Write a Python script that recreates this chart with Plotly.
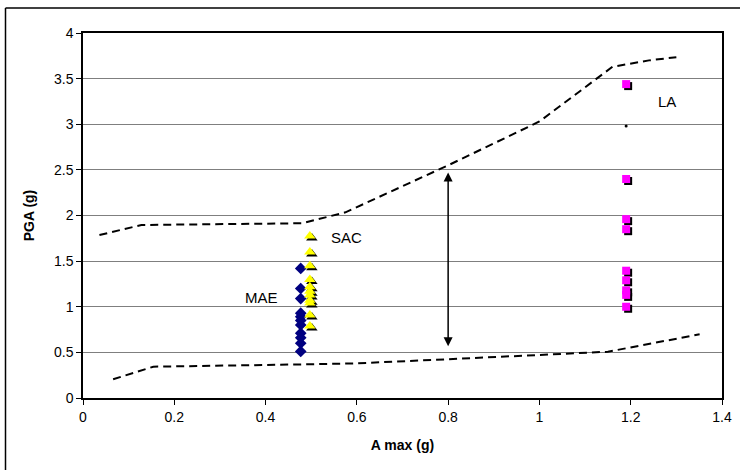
import plotly.graph_objects as go

# ---- data ----
mae_x = [0.477] * 11
mae_y = [1.42, 1.20, 1.09, 0.93, 0.89, 0.85, 0.80, 0.71, 0.66, 0.60, 0.51]

sac_x = [0.497] * 11
sac_y = [1.775, 1.60, 1.45, 1.30, 1.22, 1.17, 1.13, 1.07, 1.04, 0.91, 0.79]

la_x = [1.19] * 9
la_y = [3.44, 2.40, 1.96, 1.85, 1.395, 1.29, 1.18, 1.13, 1.00]
la_dot_x = [1.19]
la_dot_y = [2.98]

upper_x = [0.036, 0.128, 0.48, 0.575, 0.80, 1.00, 1.16, 1.24, 1.30]
upper_y = [1.786, 1.896, 1.915, 2.035, 2.55, 3.03, 3.63, 3.70, 3.735]

lower_x = [0.066, 0.154, 0.50, 0.60, 0.80, 1.00, 1.15, 1.351]
lower_y = [0.205, 0.343, 0.37, 0.38, 0.425, 0.47, 0.507, 0.698]

arrow_x = [0.80, 0.80]
arrow_y = [0.55, 2.47]

labels = ["MAE", "SAC", "LA"]
label_x = [0.392, 0.578, 1.279]
label_y = [1.096, 1.76, 3.25]

x_ticks = [0, 0.2, 0.4, 0.6, 0.8, 1.0, 1.2, 1.4]
x_tick_text = ["0", "0.2", "0.4", "0.6", "0.8", "1", "1.2", "1.4"]
y_ticks = [0, 0.5, 1, 1.5, 2, 2.5, 3, 3.5, 4]
y_tick_text = ["0", "0.5", "1", "1.5", "2", "2.5", "3", "3.5", "4"]

# ---- layout geometry ----
W, H = 740, 470
L, R, T, B = 83, 18, 33, 72
pw, ph = W - L - R, H - T - B
XMAX, YMAX = 1.4, 4.0
sdx = 2 / pw * XMAX
sdy = 2 / ph * YMAX

FONT = "Liberation Sans, Arial, sans-serif"

fig = go.Figure()

fig.add_trace(go.Scatter(x=upper_x, y=upper_y, mode="lines",
                         line=dict(color="black", width=2, dash="8px,5px"),
                         showlegend=False))
fig.add_trace(go.Scatter(x=lower_x, y=lower_y, mode="lines",
                         line=dict(color="black", width=2, dash="8px,5px"),
                         showlegend=False))

# shadows (drawn on shifted overlay axes, below the coloured marks)
for xs, ys, sym, sz in [(sac_x, sac_y, "triangle-up", 10), (la_x, la_y, "square", 8)]:
    fig.add_trace(go.Scatter(x=xs, y=ys, mode="markers", xaxis="x2", yaxis="y2",
                             marker=dict(symbol=sym, size=sz, color="black"),
                             hoverinfo="skip", showlegend=False))

fig.add_trace(go.Scatter(x=mae_x, y=mae_y, mode="markers", name="MAE",
                         xaxis="x3", yaxis="y3",
                         marker=dict(symbol="diamond", size=9, color="#000080"),
                         showlegend=False))
fig.add_trace(go.Scatter(x=sac_x, y=sac_y, mode="markers", name="SAC",
                         xaxis="x3", yaxis="y3",
                         marker=dict(symbol="triangle-up", size=10, color="#FFFF00"),
                         showlegend=False))
fig.add_trace(go.Scatter(x=la_x, y=la_y, mode="markers", name="LA",
                         xaxis="x3", yaxis="y3",
                         marker=dict(symbol="square", size=8, color="#FF00FF"),
                         showlegend=False))
fig.add_trace(go.Scatter(x=la_dot_x, y=la_dot_y, mode="markers",
                         xaxis="x3", yaxis="y3",
                         marker=dict(symbol="circle", size=3, color="black"),
                         showlegend=False))

annotations = [
    dict(x=arrow_x[1], y=arrow_y[1], ax=arrow_x[0], ay=arrow_y[0],
         xref="x", yref="y", axref="x", ayref="y", text="", showarrow=True,
         arrowhead=2, arrowsize=1.2, arrowwidth=1.5, arrowside="end+start",
         arrowcolor="black"),
]
for t, lx, ly in zip(labels, label_x, label_y):
    annotations.append(dict(x=lx, y=ly, xref="x", yref="y", text=t, showarrow=False,
                            font=dict(family=FONT, size=15, color="black")))

shapes = [
    dict(type="line", xref="paper", yref="paper",
         x0=(5.5 - L) / pw, x1=(5.5 - L) / pw, y0=(H - B - 8) / ph, y1=(H - B - 475) / ph,
         line=dict(color="black", width=1.5)),
    dict(type="line", xref="paper", yref="paper",
         x0=(5.5 - L) / pw, x1=(745 - L) / pw, y0=(H - B - 8) / ph, y1=(H - B - 8) / ph,
         line=dict(color="black", width=1.5)),
]

fig.update_layout(
    width=W, height=H,
    margin=dict(l=L, r=R, t=T, b=B, pad=0, autoexpand=False),
    paper_bgcolor="white", plot_bgcolor="white",
    font=dict(family=FONT, size=14, color="black"),
    xaxis=dict(range=[0, XMAX], tickvals=x_ticks, ticktext=x_tick_text,
               showgrid=False, zeroline=False, showline=True, linecolor="black",
               linewidth=1.5, mirror=True, ticks="outside", ticklen=5,
               tickcolor="black", tickfont=dict(size=14), automargin=False,
               title=dict(text="<b>A max (g)</b>", font=dict(size=14), standoff=17)),
    yaxis=dict(range=[0, YMAX], tickvals=y_ticks, ticktext=y_tick_text,
               showgrid=True, gridcolor="#7f7f7f", gridwidth=1,
               zeroline=False, showline=True, linecolor="black",
               linewidth=1.5, mirror=True, ticks="outside", ticklen=5,
               tickcolor="black", tickfont=dict(size=14), automargin=False,
               title=dict(text="<b>PGA (g)</b>", font=dict(size=14), standoff=16)),
    xaxis2=dict(range=[-sdx, XMAX - sdx], overlaying="x", visible=False),
    yaxis2=dict(range=[sdy, YMAX + sdy], overlaying="y", visible=False),
    xaxis3=dict(range=[0, XMAX], overlaying="x", visible=False),
    yaxis3=dict(range=[0, YMAX], overlaying="y", visible=False),
    annotations=annotations,
    shapes=shapes,
)

fig.write_html("out.html", config={"displayModeBar": False},
               post_script="document.body.style.margin='0';document.body.style.overflow='hidden';")
